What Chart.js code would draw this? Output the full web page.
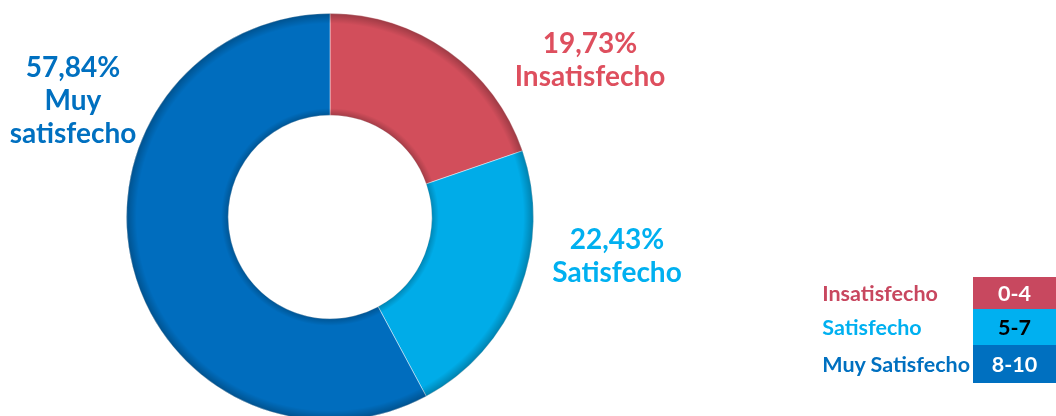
<!DOCTYPE html>
<html>
<head>
<meta charset="utf-8">
<script src="https://cdn.jsdelivr.net/npm/chart.js@4.4.1/dist/chart.umd.min.js"></script>
<style>
  html, body { margin: 0; padding: 0; background: #fff; overflow: hidden; }
  body { width: 1056px; height: 416px; position: relative; font-family: Lato, "Open Sans", sans-serif; }
  #wrap { position: absolute; left: 0; top: 0; width: 1056px; height: 426px; }
  #legend { position: absolute; right: 0; top: 277px; border-collapse: collapse; font-weight: bold; }
  #legend td { padding: 0; }
  #legend td.name { font-size: 21.5px; padding: 0 3px 0 0; white-space: nowrap; }
  #legend td.range { width: 83px; text-align: center; font-size: 21.5px; }
</style>
</head>
<body>
<div id="wrap"><canvas id="chart"></canvas></div>
<table id="legend"></table>
<script>
const categories = ['Insatisfecho', 'Satisfecho', 'Muy satisfecho'];
const values = [19.73, 22.43, 57.84];
const sliceColors = ['#D24E5B', '#00ACE8', '#006DBE'];
const labelColors = ['#DE4F5E', '#00B0F0', '#0070C0'];

const legendNames = ['Insatisfecho', 'Satisfecho', 'Muy Satisfecho'];
const legendRanges = ['0-4', '5-7', '8-10'];
const legendTextColors = ['#C8475F', '#00B0F0', '#0070C0'];
const legendBoxColors = ['#C8485F', '#00B0F0', '#0070C0'];
const legendBoxText = ['#ffffff', '#000000', '#ffffff'];

// legend table on the right
const table = document.getElementById('legend');
const rowHeights = [32, 36, 38];
legendNames.forEach((name, i) => {
  const tr = document.createElement('tr');
  tr.style.height = rowHeights[i] + 'px';
  tr.innerHTML = '<td class="name" style="color:' + legendTextColors[i] + '">' + name + '</td>' +
    '<td class="range" style="background:' + legendBoxColors[i] + ';color:' + legendBoxText[i] + '">' + legendRanges[i] + '</td>';
  table.appendChild(tr);
});

const fmt = v => v.toFixed(2).replace('.', ',') + '%';

// text lines of each slice label, offsets from the doughnut centre
const labelLines = [
  [fmt(values[0]), 'Insatisfecho'],
  [fmt(values[1]), 'Satisfecho'],
  [fmt(values[2]), 'Muy', 'satisfecho']
];
const labelOffsets = [[260, -173], [287, 23], [-257, -149]];

const bevel = {
  id: 'bevel',
  afterDatasetsDraw(chart) {
    const arc = chart.getDatasetMeta(0).data[0];
    if (!arc) return;
    const { x, y, innerRadius, outerRadius } = arc;
    const ctx = chart.ctx;
    const g = ctx.createRadialGradient(x, y, innerRadius, x, y, outerRadius);
    g.addColorStop(0, 'rgba(0,0,0,0.22)');
    g.addColorStop(0.07, 'rgba(0,0,0,0)');
    g.addColorStop(0.9, 'rgba(0,0,0,0)');
    g.addColorStop(1, 'rgba(0,0,0,0.25)');
    ctx.save();
    ctx.beginPath();
    ctx.arc(x, y, outerRadius, 0, Math.PI * 2);
    ctx.arc(x, y, innerRadius, 0, Math.PI * 2, true);
    ctx.fillStyle = g;
    ctx.fill();
    ctx.restore();
  }
};

const sliceLabels = {
  id: 'sliceLabels',
  afterDraw(chart) {
    const arc = chart.getDatasetMeta(0).data[0];
    if (!arc) return;
    const ctx = chart.ctx;
    ctx.save();
    ctx.font = 'bold 28px Lato';
    ctx.textAlign = 'center';
    ctx.textBaseline = 'middle';
    labelLines.forEach((lines, i) => {
      ctx.fillStyle = labelColors[i];
      lines.forEach((t, j) => {
        ctx.fillText(t, arc.x + labelOffsets[i][0], arc.y + labelOffsets[i][1] + j * 33);
      });
    });
    ctx.restore();
  }
};

new Chart(document.getElementById('chart'), {
  type: 'doughnut',
  data: {
    labels: categories,
    datasets: [{
      data: values,
      backgroundColor: sliceColors,
      borderColor: 'rgba(255,255,255,0.45)',
      borderWidth: 1
    }]
  },
  options: {
    responsive: true,
    maintainAspectRatio: false,
    animation: false,
    cutout: '50%',
    layout: { padding: { left: 126, right: 522, top: 13, bottom: 5 } },
    plugins: {
      legend: { display: false },
      tooltip: { enabled: false }
    }
  },
  plugins: [bevel, sliceLabels]
});
</script>
</body>
</html>
